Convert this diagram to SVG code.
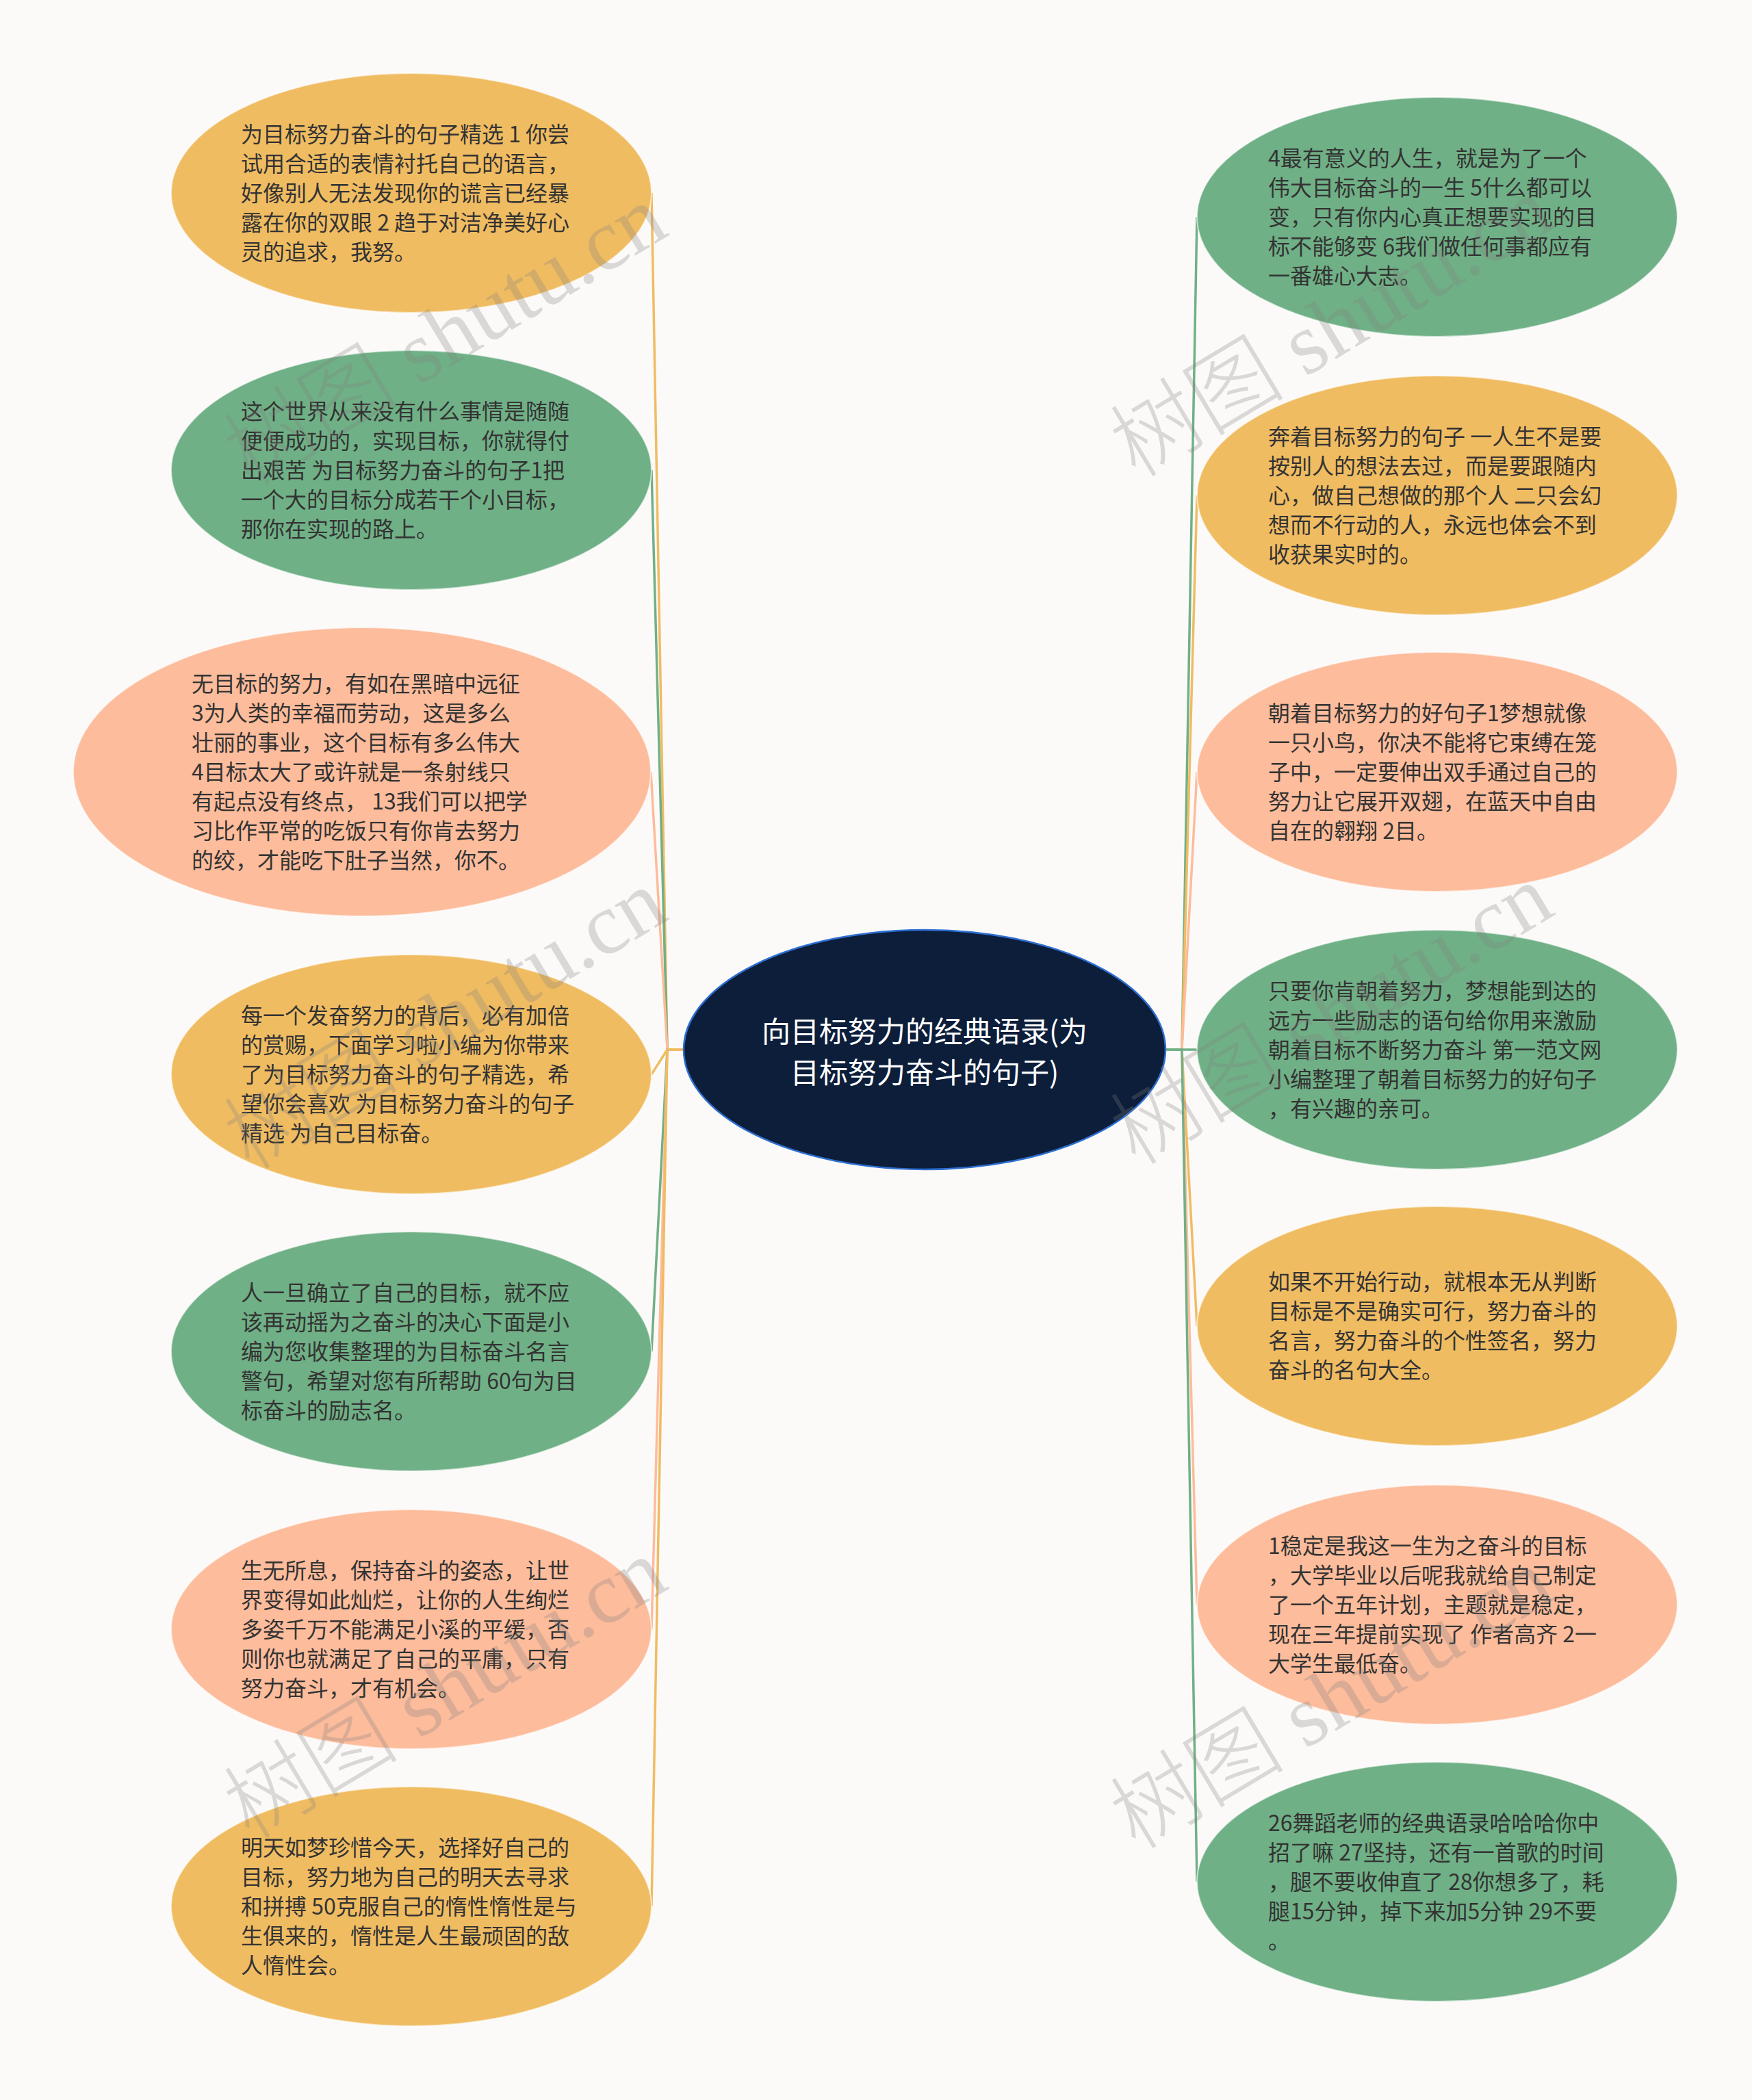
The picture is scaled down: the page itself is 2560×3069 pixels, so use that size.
<svg xmlns="http://www.w3.org/2000/svg" width="2560" height="3069" viewBox="0 0 2560 3069">
<style>
.bg{fill:#fcfaf9}
.n{stroke:#ffffff;stroke-width:2;stroke-opacity:0.6}
.or{fill:#f0bc62}
.gr{fill:#70b086}
.pe{fill:#fdbc9b}
.c{fill:none;stroke-width:3.5;stroke-linejoin:round}
.co{stroke:#f0bc62}
.cg{stroke:#70b086}
.cp{stroke:#fdbc9b}
.t{font-family:"Noto Sans CJK SC","Noto Sans",sans-serif;font-size:32px;fill:#333333}
.rt{font-family:"Noto Sans CJK SC","Noto Sans",sans-serif;font-size:42px;fill:#ffffff;text-anchor:middle}
.wm{font-family:"Liberation Serif","Noto Sans CJK SC",serif;font-size:128px;font-weight:300;fill:#808080;fill-opacity:0.28}
</style>
<rect class="bg" x="0" y="0" width="2560" height="3069"/>
<g id="connectors">
<path class="c co" d="M999,1534 H975 L952,282"/>
<path class="c cg" d="M999,1534 H975 L952,687"/>
<path class="c cp" d="M999,1534 H975 L951,1128"/>
<path class="c cg" d="M999,1534 H975 L952,1975"/>
<path class="c cp" d="M999,1534 H975 L952,2381"/>
<path class="c co" d="M999,1534 H975 L952,2786"/>
<path class="c co" d="M999,1534 H975 L952,1570"/>
<path class="c cg" d="M1703,1534 H1727 L1749,317"/>
<path class="c co" d="M1703,1534 H1727 L1749,724"/>
<path class="c cp" d="M1703,1534 H1727 L1749,1128"/>
<path class="c co" d="M1703,1534 H1727 L1749,1938"/>
<path class="c cp" d="M1703,1534 H1727 L1749,2345"/>
<path class="c cg" d="M1703,1534 H1727 L1749,2750"/>
<path class="c cg" d="M1703,1534 H1749"/>
</g>
<g id="root">
<ellipse cx="1351" cy="1534" rx="352" ry="175" fill="#0c1e3a" stroke="#2e6fd1" stroke-width="2.5"/>
<text class="rt" x="1351" y="1523">向目标努力的经典语录(为</text>
<text class="rt" x="1351" y="1583">目标努力奋斗的句子)</text>
</g>
<g id="L1">
<ellipse class="n or" cx="601" cy="282" rx="351" ry="175"/>
<text class="t" x="352" y="208">为目标努力奋斗的句子精选 1 你尝</text>
<text class="t" x="352" y="251">试用合适的表情衬托自己的语言，</text>
<text class="t" x="352" y="294">好像别人无法发现你的谎言已经暴</text>
<text class="t" x="352" y="337">露在你的双眼 2 趋于对洁净美好心</text>
<text class="t" x="352" y="380">灵的追求，我努。</text>
</g>
<g id="L2">
<ellipse class="n gr" cx="601" cy="687" rx="351" ry="175"/>
<text class="t" x="352" y="613">这个世界从来没有什么事情是随随</text>
<text class="t" x="352" y="656">便便成功的，实现目标，你就得付</text>
<text class="t" x="352" y="699">出艰苦 为目标努力奋斗的句子1把</text>
<text class="t" x="352" y="742">一个大的目标分成若干个小目标，</text>
<text class="t" x="352" y="785">那你在实现的路上。</text>
</g>
<g id="L3">
<ellipse class="n pe" cx="529" cy="1128" rx="422" ry="211"/>
<text class="t" x="280" y="1011">无目标的努力，有如在黑暗中远征</text>
<text class="t" x="280" y="1054">3为人类的幸福而劳动，这是多么</text>
<text class="t" x="280" y="1097">壮丽的事业，这个目标有多么伟大</text>
<text class="t" x="280" y="1140">4目标太大了或许就是一条射线只</text>
<text class="t" x="280" y="1183">有起点没有终点， 13我们可以把学</text>
<text class="t" x="280" y="1226">习比作平常的吃饭只有你肯去努力</text>
<text class="t" x="280" y="1269">的绞，才能吃下肚子当然，你不。</text>
</g>
<g id="L4">
<ellipse class="n or" cx="601" cy="1570" rx="351" ry="175"/>
<text class="t" x="352" y="1496">每一个发奋努力的背后，必有加倍</text>
<text class="t" x="352" y="1539">的赏赐，下面学习啦小编为你带来</text>
<text class="t" x="352" y="1582">了为目标努力奋斗的句子精选，希</text>
<text class="t" x="352" y="1625">望你会喜欢 为目标努力奋斗的句子</text>
<text class="t" x="352" y="1668">精选 为自己目标奋。</text>
</g>
<g id="L5">
<ellipse class="n gr" cx="601" cy="1975" rx="351" ry="175"/>
<text class="t" x="352" y="1901">人一旦确立了自己的目标，就不应</text>
<text class="t" x="352" y="1944">该再动摇为之奋斗的决心下面是小</text>
<text class="t" x="352" y="1987">编为您收集整理的为目标奋斗名言</text>
<text class="t" x="352" y="2030">警句，希望对您有所帮助 60句为目</text>
<text class="t" x="352" y="2073">标奋斗的励志名。</text>
</g>
<g id="L6">
<ellipse class="n pe" cx="601" cy="2381" rx="351" ry="175"/>
<text class="t" x="352" y="2307">生无所息，保持奋斗的姿态，让世</text>
<text class="t" x="352" y="2350">界变得如此灿烂，让你的人生绚烂</text>
<text class="t" x="352" y="2393">多姿千万不能满足小溪的平缓，否</text>
<text class="t" x="352" y="2436">则你也就满足了自己的平庸，只有</text>
<text class="t" x="352" y="2479">努力奋斗，才有机会。</text>
</g>
<g id="L7">
<ellipse class="n or" cx="601" cy="2786" rx="351" ry="175"/>
<text class="t" x="352" y="2712">明天如梦珍惜今天，选择好自己的</text>
<text class="t" x="352" y="2755">目标，努力地为自己的明天去寻求</text>
<text class="t" x="352" y="2798">和拼搏 50克服自己的惰性惰性是与</text>
<text class="t" x="352" y="2841">生俱来的，惰性是人生最顽固的敌</text>
<text class="t" x="352" y="2884">人惰性会。</text>
</g>
<g id="R1">
<ellipse class="n gr" cx="2100" cy="317" rx="351" ry="175"/>
<text class="t" x="1853" y="243">4最有意义的人生，就是为了一个</text>
<text class="t" x="1853" y="286">伟大目标奋斗的一生 5什么都可以</text>
<text class="t" x="1853" y="329">变，只有你内心真正想要实现的目</text>
<text class="t" x="1853" y="372">标不能够变 6我们做任何事都应有</text>
<text class="t" x="1853" y="415">一番雄心大志。</text>
</g>
<g id="R2">
<ellipse class="n or" cx="2100" cy="724" rx="351" ry="175"/>
<text class="t" x="1853" y="650">奔着目标努力的句子 一人生不是要</text>
<text class="t" x="1853" y="693">按别人的想法去过，而是要跟随内</text>
<text class="t" x="1853" y="736">心，做自己想做的那个人 二只会幻</text>
<text class="t" x="1853" y="779">想而不行动的人，永远也体会不到</text>
<text class="t" x="1853" y="822">收获果实时的。</text>
</g>
<g id="R3">
<ellipse class="n pe" cx="2100" cy="1128" rx="351" ry="175"/>
<text class="t" x="1853" y="1054">朝着目标努力的好句子1梦想就像</text>
<text class="t" x="1853" y="1097">一只小鸟，你决不能将它束缚在笼</text>
<text class="t" x="1853" y="1140">子中，一定要伸出双手通过自己的</text>
<text class="t" x="1853" y="1183">努力让它展开双翅，在蓝天中自由</text>
<text class="t" x="1853" y="1226">自在的翱翔 2目。</text>
</g>
<g id="R4">
<ellipse class="n gr" cx="2100" cy="1534" rx="351" ry="175"/>
<text class="t" x="1853" y="1460">只要你肯朝着努力，梦想能到达的</text>
<text class="t" x="1853" y="1503">远方一些励志的语句给你用来激励</text>
<text class="t" x="1853" y="1546">朝着目标不断努力奋斗 第一范文网</text>
<text class="t" x="1853" y="1589">小编整理了朝着目标努力的好句子</text>
<text class="t" x="1853" y="1632">，有兴趣的亲可。</text>
</g>
<g id="R5">
<ellipse class="n or" cx="2100" cy="1938" rx="351" ry="175"/>
<text class="t" x="1853" y="1885">如果不开始行动，就根本无从判断</text>
<text class="t" x="1853" y="1928">目标是不是确实可行，努力奋斗的</text>
<text class="t" x="1853" y="1971">名言，努力奋斗的个性签名，努力</text>
<text class="t" x="1853" y="2014">奋斗的名句大全。</text>
</g>
<g id="R6">
<ellipse class="n pe" cx="2100" cy="2345" rx="351" ry="175"/>
<text class="t" x="1853" y="2271">1稳定是我这一生为之奋斗的目标</text>
<text class="t" x="1853" y="2314">，大学毕业以后呢我就给自己制定</text>
<text class="t" x="1853" y="2357">了一个五年计划，主题就是稳定，</text>
<text class="t" x="1853" y="2400">现在三年提前实现了 作者高齐 2一</text>
<text class="t" x="1853" y="2443">大学生最低奋。</text>
</g>
<g id="R7">
<ellipse class="n gr" cx="2100" cy="2750" rx="351" ry="175"/>
<text class="t" x="1853" y="2676">26舞蹈老师的经典语录哈哈哈你中</text>
<text class="t" x="1853" y="2719">招了嘛 27坚持，还有一首歌的时间</text>
<text class="t" x="1853" y="2762">，腿不要收伸直了 28你想多了，耗</text>
<text class="t" x="1853" y="2805">腿15分钟，掉下来加5分钟 29不要</text>
<text class="t" x="1853" y="2848">。</text>
</g>
<g id="watermarks">
<text class="wm" transform="translate(365,712) rotate(-31)">树图 shutu.cn</text>
<text class="wm" transform="translate(365,1712) rotate(-31)">树图 shutu.cn</text>
<text class="wm" transform="translate(365,2690) rotate(-31)">树图 shutu.cn</text>
<text class="wm" transform="translate(1660,700) rotate(-31)">树图 shutu.cn</text>
<text class="wm" transform="translate(1660,1705) rotate(-31)">树图 shutu.cn</text>
<text class="wm" transform="translate(1660,2705) rotate(-31)">树图 shutu.cn</text>
</g>
</svg>
